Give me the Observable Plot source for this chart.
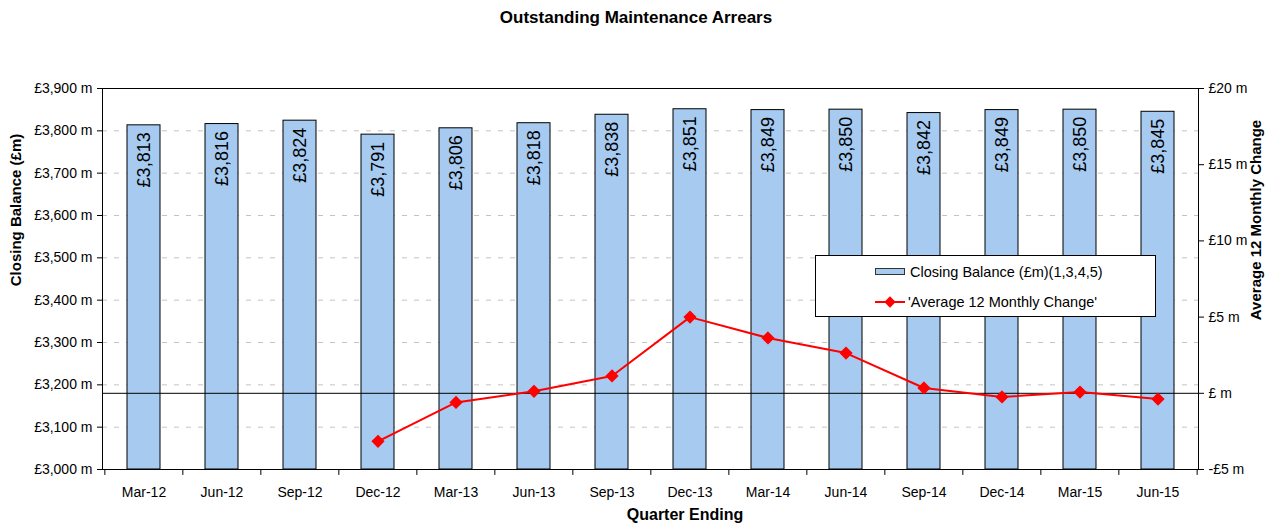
<!DOCTYPE html>
<html>
<head>
<meta charset="utf-8">
<script src="https://cdn.jsdelivr.net/npm/d3@7"></script>
<script src="https://cdn.jsdelivr.net/npm/@observablehq/plot@0.6"></script>
<style>
  body { margin: 0; background: #fff; font-family: "Liberation Sans", Arial, sans-serif; }
  #wrap { position: relative; width: 1272px; height: 524px; overflow: hidden; }
  .abs { position: absolute; white-space: nowrap; color: #000; }
  .bold { font-weight: bold; }
</style>
</head>
<body>
<div id="wrap"></div>
<script>
// ---- Data ----
const quarters = ["Mar-12","Jun-12","Sep-12","Dec-12","Mar-13","Jun-13","Sep-13","Dec-13","Mar-14","Jun-14","Sep-14","Dec-14","Mar-15","Jun-15"];
const closingBalance = [3813, 3816, 3824, 3791, 3806, 3818, 3838, 3851, 3849, 3850, 3842, 3849, 3850, 3845];
const avgMonthlyChange = [null, null, null, -3.15, -0.6, 0.13, 1.14, 5.0, 3.63, 2.64, 0.35, -0.24, 0.08, -0.38];
const leftTicks = [3000, 3100, 3200, 3300, 3400, 3500, 3600, 3700, 3800, 3900];
const rightTicks = [-5, 0, 5, 10, 15, 20];
const gridTicks = [3100, 3200, 3300, 3400, 3500, 3600, 3700, 3800];

const titleText = "Outstanding Maintenance Arrears";
const leftLabel = "Closing Balance (£m)";
const rightLabel = "Average 12 Monthly Change";
const xLabel = "Quarter Ending";
const legendBar = "Closing Balance (£m)(1,3,4,5)";
const legendLine = "'Average 12 Monthly Change'";

// ---- Dual-axis mapping ----
const leftDomain = [3000, 3900];
const rightDomain = [-5, 20];
const toLeft = v => leftDomain[0] + (v - rightDomain[0]) / (rightDomain[1] - rightDomain[0]) * (leftDomain[1] - leftDomain[0]);
const toRight = y => rightDomain[0] + (y - leftDomain[0]) / (leftDomain[1] - leftDomain[0]) * (rightDomain[1] - rightDomain[0]);

const data = quarters.map((q, i) => ({ q, bal: closingBalance[i], chg: avgMonthlyChange[i] }));
const lineData = data.filter(d => d.chg != null);

const W = 1272, H = 524, mL = 102, mR = 74, mT = 88, mB = 55;
const step = (W - mL - mR) / quarters.length;
const font = '"Liberation Sans", Arial, sans-serif';

const fmtLeft = v => "£" + d3.format(",")(v) + " m";
const fmtRight = v => v === 0 ? "£ m" : (v < 0 ? "-£" + Math.abs(v) + " m" : "£" + v + " m");

const chart = Plot.plot({
  width: W, height: H,
  marginLeft: mL, marginRight: mR, marginTop: mT, marginBottom: mB,
  style: { fontFamily: font, fontSize: "14px", color: "#000", background: "#fff", overflow: "visible" },
  x: { domain: quarters, paddingInner: 0.58, paddingOuter: 0.29, label: null },
  y: { domain: leftDomain, label: null },
  marks: [
    Plot.ruleY(gridTicks, { stroke: "#c4c4c4", strokeDasharray: "5,7", strokeWidth: 1 }),
    Plot.barY(data, { x: "q", y1: d => leftDomain[0], y2: "bal", fill: "#a6caf0", stroke: "#000", strokeWidth: 1 }),
    Plot.text(data, { x: "q", y: "bal", text: d => "£" + d3.format(",")(d.bal), rotate: -90, textAnchor: "end", dy: 7, fontSize: 18, fill: "#000" }),
    Plot.ruleY([toLeft(0)], { stroke: "#000", strokeWidth: 1 }),
    Plot.line(lineData, { x: "q", y: d => toLeft(d.chg), stroke: "#ff0000", strokeWidth: 2 }),
    Plot.dot(lineData, { x: "q", y: d => toLeft(d.chg), symbol: "diamond2", fill: "#ff0000", stroke: "#ff0000", r: 5 }),
    Plot.frame({ stroke: "#000", strokeWidth: 1 }),
    Plot.ruleX(quarters, { x: d => d, y1: d => leftDomain[0], y2: d => leftDomain[0] - 14, dx: -step / 2, stroke: "#000" }),
    Plot.ruleX([quarters[quarters.length - 1]], { x: d => d, y1: d => leftDomain[0], y2: d => leftDomain[0] - 14, dx: step / 2, stroke: "#000" }),
    Plot.axisY(leftTicks, { anchor: "left", tickSize: 5, tickPadding: 5, tickFormat: fmtLeft, label: null, fontSize: 14 }),
    Plot.axisY(rightTicks.map(toLeft), { anchor: "right", tickSize: 5, tickPadding: 5, tickFormat: v => fmtRight(Math.round(toRight(v))), label: null, fontSize: 14 }),
    Plot.axisX({ tickSize: 0, tickPadding: 18, label: null, fontSize: 14 })
  ]
});

const wrap = document.getElementById("wrap");
wrap.appendChild(chart);
chart.style.position = "absolute";
chart.style.left = "0px";
chart.style.top = "0px";

function addDiv(text, css, cls) {
  const d = document.createElement("div");
  d.className = "abs " + (cls || "");
  d.textContent = text;
  Object.assign(d.style, css);
  wrap.appendChild(d);
  return d;
}

// Title
addDiv(titleText, { left: "0px", width: "1272px", textAlign: "center", top: "8px", fontSize: "17px", lineHeight: "20px" }, "bold");
// Axis titles
addDiv(leftLabel, { left: "15px", top: "210px", fontSize: "15px", transform: "translate(-50%,-50%) rotate(-90deg)" }, "bold");
addDiv(rightLabel, { left: "1255px", top: "220px", fontSize: "15px", transform: "translate(-50%,-50%) rotate(-90deg)" }, "bold");
addDiv(xLabel, { left: "685px", top: "515px", fontSize: "16px", transform: "translate(-50%,-50%)" }, "bold");

// Legend
const leg = document.createElement("div");
leg.className = "abs";
Object.assign(leg.style, { left: "815px", top: "255px", width: "341px", height: "62px", boxSizing: "border-box", border: "1px solid #000", background: "#fff" });
wrap.appendChild(leg);
const sw = document.createElement("div");
Object.assign(sw.style, { position: "absolute", left: "59px", top: "12px", width: "30px", height: "7px", boxSizing: "border-box", background: "#a6caf0", border: "1px solid #333" });
leg.appendChild(sw);
const t1 = document.createElement("div");
t1.textContent = legendBar;
Object.assign(t1.style, { position: "absolute", left: "94px", top: "6px", fontSize: "14.5px", lineHeight: "20px", whiteSpace: "nowrap" });
leg.appendChild(t1);
const ln = document.createElement("div");
Object.assign(ln.style, { position: "absolute", left: "59px", top: "45px", width: "30px", height: "2px", background: "#ff0000" });
leg.appendChild(ln);
const dm = document.createElement("div");
Object.assign(dm.style, { position: "absolute", left: "70px", top: "42px", width: "8px", height: "8px", background: "#ff0000", transform: "rotate(45deg)" });
leg.appendChild(dm);
const t2 = document.createElement("div");
t2.textContent = legendLine;
Object.assign(t2.style, { position: "absolute", left: "92px", top: "36px", fontSize: "14.5px", lineHeight: "20px", whiteSpace: "nowrap" });
leg.appendChild(t2);
</script>
</body>
</html>
